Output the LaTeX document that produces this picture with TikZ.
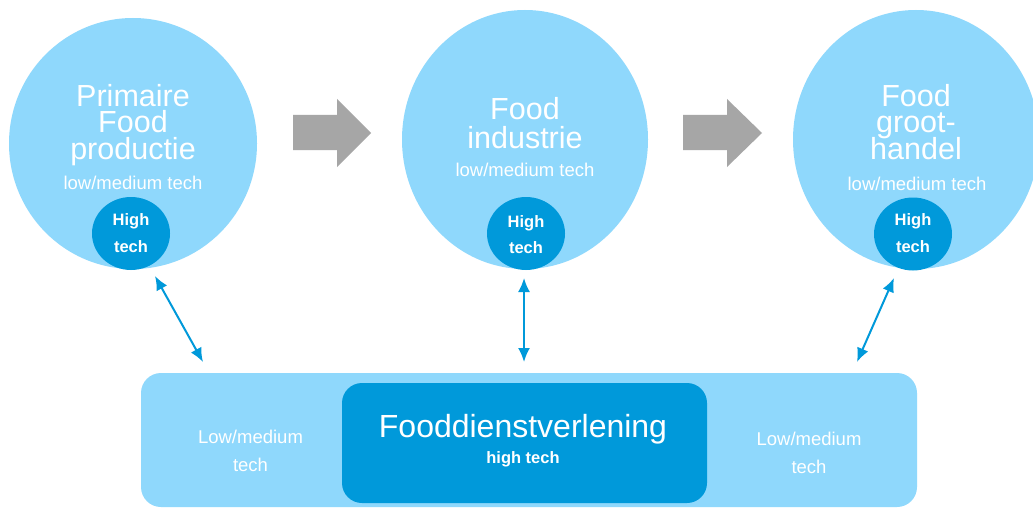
\documentclass[tikz,border=0pt]{standalone}
\usepackage{fontspec}
\setmainfont{Liberation Sans}
\usetikzlibrary{arrows.meta,shapes.geometric}
\definecolor{lightblue}{HTML}{8FD8FC}
\definecolor{darkblue}{HTML}{0099DA}
\definecolor{arrowgray}{HTML}{A6A6A6}
\begin{document}
\begin{tikzpicture}[x=1pt,y=-1pt,
  bigcirc/.style={ellipse, fill=lightblue, inner sep=0pt, minimum width=247pt, minimum height=257pt},
  smallcirc/.style={ellipse, fill=darkblue, inner sep=0pt, minimum width=78pt, minimum height=73pt},
  titletext/.style={text=white, inner sep=0pt, anchor=base, font=\fontsize{30.5}{30.5}\selectfont},
  subtext/.style={text=white, inner sep=0pt, anchor=base, font=\fontsize{18.5}{18.5}\selectfont},
  hightext/.style={text=white, inner sep=0pt, anchor=base, font=\fontsize{16.5}{16.5}\selectfont\bfseries},
  flowarrow/.style={fill=arrowgray},
  linkarrow/.style={draw=darkblue, line width=2pt, {Latex[length=14pt,width=12pt]}-{Latex[length=14pt,width=12pt]}}
]
\useasboundingbox (0,0) rectangle (1033,508);
\fill[white] (0,0) rectangle (1033,508);

% big circles
\node[bigcirc, minimum width=248pt, minimum height=251pt] (c1) at (133,143.5) {};
\node[bigcirc, minimum width=246pt, minimum height=259pt] (c2) at (525,139.5) {};
\node[bigcirc, minimum width=246pt, minimum height=259pt] (c3) at (916,139.5) {};

% small high tech circles
\node[smallcirc] (h1) at (131,233.5) {};
\node[smallcirc] (h2) at (526,233.5) {};
\node[smallcirc] (h3) at (913,234) {};

% circle 1 text
\node[titletext] (t1a) at (133,107) {Primaire};
\node[titletext] (t1b) at (133,133) {Food};
\node[titletext] (t1c) at (133,159) {productie};
\node[subtext] (s1) at (133,189) {low/medium tech};
\node[hightext] (h1a) at (131,225) {High};
\node[hightext] (h1b) at (131,252) {tech};

% circle 2 text
\node[titletext] (t2a) at (525,120) {Food};
\node[titletext] (t2b) at (525,148) {industrie};
\node[subtext] (s2) at (525,176) {low/medium tech};
\node[hightext] (h2a) at (526,227) {High};
\node[hightext] (h2b) at (526,253) {tech};

% circle 3 text
\node[titletext] (t3a) at (916,107) {Food};
\node[titletext] (t3b) at (916,133) {groot-};
\node[titletext] (t3c) at (916,160) {handel};
\node[subtext] (s3) at (917,190) {low/medium tech};
\node[hightext] (h3a) at (913,225) {High};
\node[hightext] (h3b) at (913,252) {tech};

% gray flow arrows
\fill[flowarrow] (293,115) -- (337,115) -- (337,99) -- (371,133) -- (337,167) -- (337,150) -- (293,150) -- cycle;
\fill[flowarrow] (683,115) -- (727,115) -- (727,99) -- (762,133) -- (727,167) -- (727,150) -- (683,150) -- cycle;

% bottom box
\node[rectangle, rounded corners=20pt, fill=lightblue, inner sep=0pt, minimum width=776pt, minimum height=134pt] (svc) at (529,440) {};
\node[rectangle, rounded corners=20pt, fill=darkblue, inner sep=0pt, minimum width=365pt, minimum height=120pt] (core) at (524.5,443) {};
\node[text=white, inner sep=0pt, anchor=base, font=\fontsize{32}{32}\selectfont] (fd) at (523,437) {Fooddienstverlening};
\node[hightext] (fdh) at (523,463) {high tech};
\node[subtext] (l1a) at (250.5,443) {Low/medium};
\node[subtext] (l1b) at (250.5,471) {tech};
\node[subtext] (l2a) at (809,445) {Low/medium};
\node[subtext] (l2b) at (809,473) {tech};

% link arrows
\coordinate (a1) at (155,276);
\coordinate (b1) at (203,362);
\coordinate (a2) at (524,278);
\coordinate (b2) at (524,362);
\coordinate (a3) at (894,278);
\coordinate (b3) at (857,362);
\draw[linkarrow] (a1) -- (b1);
\draw[linkarrow] (a2) -- (b2);
\draw[linkarrow] (a3) -- (b3);
\end{tikzpicture}
\end{document}
